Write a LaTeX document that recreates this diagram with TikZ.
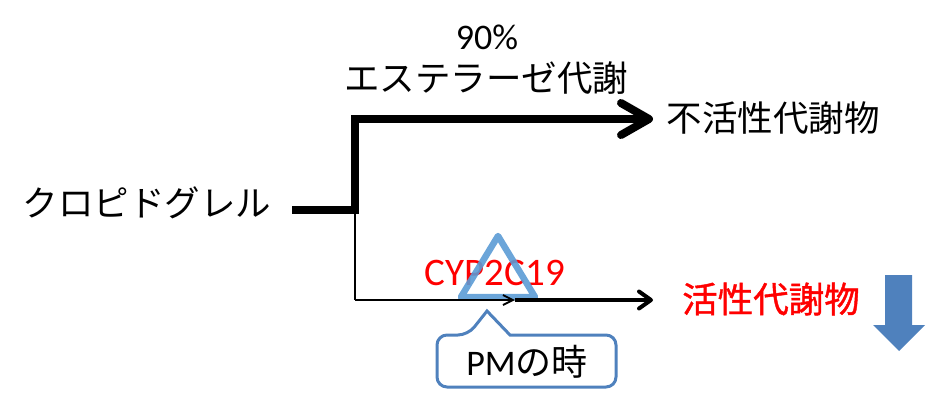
\documentclass[tikz,border=0pt]{standalone}
\usepackage{fontspec}
\usepackage{tikz}
\usetikzlibrary{arrows.meta}
\setmainfont{Carlito}
\newfontfamily\jpfont{Noto Sans CJK JP}
\newfontfamily\jpheavy{Noto Sans CJK JP}[FakeBold=1.2]
\definecolor{tribl}{RGB}{91,155,213}
\definecolor{boxbl}{RGB}{79,129,189}

\begin{document}
\begin{tikzpicture}[x=1pt,y=-1pt,
    txt/.style={inner sep=0pt,font=\fontsize{35.5}{40}\selectfont\jpfont},
    redtxt/.style={txt,text=red},
    mainline/.style={line width=8pt,line join=miter},
    thinline/.style={line width=1.8pt}]
      \useasboundingbox (0,0) rectangle (926,408);
      % \draw[help lines] (0,0) grid[step=50] (926,408);
      \node[txt] (drug) at (147,203) {クロピドグレル};
      \node[txt,font=\fontsize{36}{40}\selectfont] (pct) at (487,37) {90\%};
      \node[txt] (est) at (486,78) {エステラーゼ代謝};
      \node[txt] (inact) at (773,118) {不活性代謝物};
      \node[redtxt,font=\fontsize{35.5}{40}\selectfont\jpheavy] (act) at (771,299) {活性代謝物};
      \node[redtxt,font=\fontsize{39}{44}\selectfont] (cyp) at (495,273) {CYP2C19};
      \coordinate (start) at (292,210);
      \coordinate (fork) at (355,210);
      \coordinate (up) at (355,119);
      \coordinate (upend) at (653,119);
      \coordinate (down) at (355,300);
      \coordinate (mid) at (515,300);
      \coordinate (downend) at (653,300);
      % triangle over the enzyme name
      \draw[tribl,line width=6.5pt,line join=round,draw opacity=.9]
        (498,236) -- (535,297) -- (461,297) -- cycle;
      \draw[mainline,-{Straight Barb[length=28pt,width=32pt,round]}]
        (start) -- (fork) -- (up) -- (upend);
      \draw[thinline] (fork) -- (down);
      \draw[thinline,-{Straight Barb[length=10pt,width=10pt]}] (down) -- (mid);
      \draw[line width=4pt,-{Straight Barb[length=12pt,width=17pt,round]}] (mid) -- (downend);
      % PM callout
      \node[txt,font=\fontsize{36}{40}\selectfont] (pm) at (527,362) {PM\jpfont の時};
      \draw[boxbl,line width=3pt,rounded corners=10pt]
        (527,387) -- (437,387) -- (437,335) -- (468,335) [sharp corners] -- (487,311)
        -- (510,335) [rounded corners=10pt] -- (616,335) -- (616,387) -- cycle;
      % decrease arrow
      \fill[boxbl] (885,275) -- (912,275) -- (912,325) -- (925,325) -- (899,351)
        -- (873,325) -- (885,325) -- cycle;
\end{tikzpicture}
\end{document}
